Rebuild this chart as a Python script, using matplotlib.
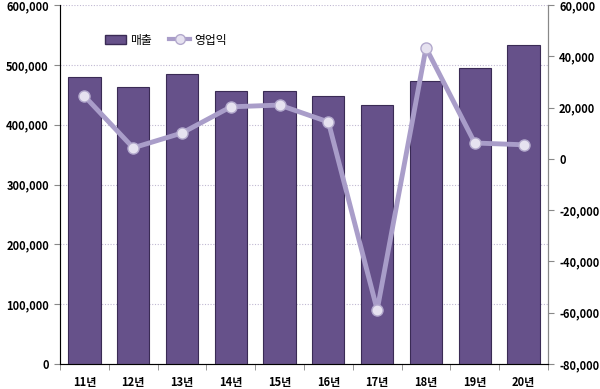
import numpy as np
import matplotlib.pyplot as plt
from matplotlib.lines import Line2D
from matplotlib.patches import Patch

plt.rcParams['font.family'] = ['Noto Sans CJK KR', 'DejaVu Sans']

years = ['11년', '12년', '13년', '14년', '15년', '16년', '17년', '18년', '19년', '20년']
sales = [480000, 463000, 485000, 456000, 456000, 448000, 433000, 473000, 495000, 533000]
op_profit = [24500, 4300, 10100, 20300, 21000, 14400, -58900, 43300, 6200, 5500]

bar_color = '#66518a'
line_color = '#a99dc9'

fig = plt.figure(figsize=(6, 3.89), dpi=100)
ax = fig.add_axes([0.1, 0.0643, 0.8133, 0.9227])
x = np.arange(len(years))

ax.bar(x, sales, width=0.66, color=bar_color, edgecolor='#3a2b55', linewidth=0.8, zorder=2)
ax.set_xlim(-0.5, len(years) - 0.5)
ax.set_ylim(0, 600000)
ax.set_yticks(np.arange(0, 600001, 100000))
ax.set_yticklabels([f'{v:,}' for v in range(0, 600001, 100000)])
ax.yaxis.grid(True, linestyle=(0, (1, 1.5)), color='#c0b8d2', linewidth=0.8, zorder=0)
ax.set_xticks(x)
ax.set_xticklabels(years)
ax.set_xticks(np.arange(-0.5, len(years)), minor=True)
ax.tick_params(axis='x', which='major', length=0, pad=9)
ax.tick_params(axis='x', which='minor', length=4, color='#888888')
ax.tick_params(axis='y', length=4, color='#888888', pad=4)
for lab in ax.get_xticklabels() + ax.get_yticklabels():
    lab.set_fontsize(8)
    lab.set_fontweight('bold')
ax.spines['top'].set_visible(False)
for s in ['left', 'right', 'bottom']:
    ax.spines[s].set_color('#888888')

ax2 = ax.twinx()
ax2.plot(x, op_profit, color=line_color, linewidth=3.5, zorder=3,
         marker='o', markersize=8, markerfacecolor='#e6e2f0',
         markeredgecolor='#b2a8cc', markeredgewidth=1)
ax2.set_ylim(-80000, 60000)
ax2.set_yticks(np.arange(-80000, 60001, 20000))
ax2.set_yticklabels([f'{v:,}' for v in range(-80000, 60001, 20000)])
ax2.tick_params(axis='y', length=4, color='#888888', pad=4)
for lab in ax2.get_yticklabels():
    lab.set_fontsize(8)
    lab.set_fontweight('bold')
ax2.spines['top'].set_visible(False)
ax2.spines['right'].set_color('#888888')

handles = [Patch(facecolor=bar_color, edgecolor='#3a2b55'),
           Line2D([0], [0], color=line_color, linewidth=3, marker='o', markersize=7,
                  markerfacecolor='#e6e2f0', markeredgecolor='#b2a8cc')]
ax.legend(handles, ['매출', '영업익'], loc='upper left', bbox_to_anchor=(0.07, 0.95),
          ncol=2, frameon=False, fontsize=8.5, handlelength=1.8, columnspacing=1.5,
          handletextpad=0.3)

fig.savefig('out.png', dpi=100)
